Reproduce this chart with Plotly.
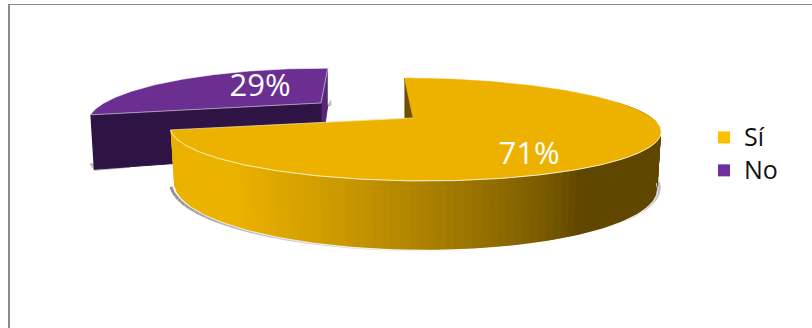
import numpy as np
import plotly.graph_objects as go

categories = ["Sí", "No"]
values = [71, 29]
legend_colors = ["#FDBF00", "#7030A0"]
top_colors = ["#EDB200", "#6B2E91"]
FONT = "Open Sans"

sweep = [v / sum(values) * 360 for v in values]
START = 1.0
W, H = 812, 328


def proj(theta_deg, p, bottom=False, grow=1.0):
    t = np.radians(theta_deg)
    X, Y = np.sin(t), np.cos(t)
    s = 1 / (1 + p["k"] * Y)
    wide = p["bw"] if bottom else 1.0
    x = p["cx"] + p["R"] * X * s * wide * grow + p["shear"] * Y
    y = p["cy"] - p["A"] * Y * s
    if bottom:
        y = y + p["H"] * s
    return x, y


YEL = dict(cx=413, cy=118, R=239, A=48.9, k=0.223, shear=-12, H=53.5, bw=0.985)
PUR = dict(cx=321, cy=103, R=217, A=47, k=0.35, shear=4, H=50, bw=0.985)

fig = go.Figure()


def poly(x, y, fill, line=None, lw=1):
    fig.add_trace(go.Scatter(
        x=list(x), y=list(y), mode="lines", fill="toself", fillcolor=fill,
        line=dict(color=line or fill, width=lw), hoverinfo="skip", showlegend=False))


def curve(x, y, color, lw=1):
    fig.add_trace(go.Scatter(x=list(x), y=list(y), mode="lines",
                             line=dict(color=color, width=lw),
                             hoverinfo="skip", showlegend=False))


a0_y, a1_y = START, START + sweep[0]
a0_p, a1_p = a1_y, a1_y + sweep[1]

# ---------- purple slice ----------
th = np.linspace(a0_p, a1_p, 120)
ax, ay = PUR["cx"], PUR["cy"]
bx, by = proj(a0_p, PUR, True)
tx, ty = proj(a0_p, PUR)
ex, ey = proj(a1_p, PUR)
fx, fy = proj(a1_p, PUR, True)
# ground shadow
poly([bx - 4, bx + 1, 130, 130], [by - 6, by + 1, by - 2, by - 4], "#B8B8B8")
poly([ex + 3, ex + 3, ex - 2], [ey + 32, fy, fy + 2], "#B8B8B8")
# far radial wall (sliver)
poly([ex, ax, ax, fx], [ey, ay, ay + PUR["H"], fy], "#55267A", "#55267A")
# near radial wall
poly([tx, ax, ax, bx], [ty, ay, ay + PUR["H"], by], "#2E1445", "#2E1445")
# top
px, py = proj(th, PUR)
poly(np.r_[ax, px, ax], np.r_[ay, py, ay], top_colors[1], "rgba(255,255,255,0.55)", 1)

# ---------- yellow slice ----------
# notch wall seen behind the opening
e0x, e0y = proj(a0_y, YEL)
poly([e0x, YEL["cx"], YEL["cx"], e0x], [e0y, YEL["cy"], YEL["cy"] + 40, e0y + 42], "#6B5000")

# ground shadow under the rim, fading towards the front of the pie
seg = np.linspace(a1_y, 172, 34)
for i, (a, b) in enumerate(zip(seg[:-1], seg[1:])):
    t = np.linspace(a, b, 5)
    sx, sy = proj(t, YEL, True, 1.003)
    f = i / (len(seg) - 2)
    g = int(140 + 105 * f)
    curve(sx - 2.5 * (1 - f), sy + 0.5, "rgb(%d,%d,%d)" % (g, g, g), 3 - f)
seg = np.linspace(85, 150, 24)
for i, (a, b) in enumerate(zip(seg[:-1], seg[1:])):
    t = np.linspace(a, b, 5)
    sx, sy = proj(t, YEL, True, 1.003)
    f = i / (len(seg) - 2)
    g = int(160 + 85 * f)
    curve(sx + 2 * (1 - f), sy, "rgb(%d,%d,%d)" % (g, g, g), 2.5 - f)

# front wall as graded strips, each overlapping the next so no seams show
LIGHT, DARK = np.array([0xEC, 0xB2, 0x00]), np.array([0x60, 0x47, 0x00])
edges = np.linspace(70, a1_y, 110)
step = edges[1] - edges[0]
for a, b in zip(edges[:-1], edges[1:]):
    tt = np.linspace(a, min(b + 2 * step, a1_y), 6)
    xa, ya = proj(tt, YEL)
    xb, yb = proj(tt[::-1], YEL, True)
    f = np.clip((580 - proj((a + b) / 2, YEL)[0]) / (580 - 235), 0, 1) ** 0.75
    c = DARK + (LIGHT - DARK) * f
    col = "rgb(%d,%d,%d)" % tuple(c)
    poly(np.r_[xa, xb], np.r_[ya, yb], col, col, 0)
# rim
th = np.linspace(100, a1_y, 160)
rx, ry = proj(th, YEL, True, 1.0)
curve(rx, ry + 0.5, "rgba(255,255,255,0.75)", 1)

# top
th = np.linspace(a0_y, a1_y, 300)
px, py = proj(th, YEL)
poly(np.r_[YEL["cx"], px, YEL["cx"]], np.r_[YEL["cy"], py, YEL["cy"]], top_colors[0], top_colors[0], 0.5)
th = np.linspace(95, a1_y, 200)
rx, ry = proj(th, YEL)
curve(rx, ry, "rgba(255,255,255,0.8)", 1)
curve([proj(a1_y, YEL)[0], YEL["cx"]], [proj(a1_y, YEL)[1], YEL["cy"]], "rgba(255,255,255,0.45)", 1)

# ---------- data labels ----------
label_x = [529, 260]
label_y = [156, 88]
fig.add_trace(go.Scatter(
    x=label_x, y=label_y, mode="text", text=[f"{v}%" for v in values],
    textfont=dict(family=FONT, size=31, color="white"),
    textposition="middle center", hoverinfo="skip", showlegend=False))

# ---------- legend ----------
for name, col in zip(categories, legend_colors):
    fig.add_trace(go.Scatter(x=[None], y=[None], mode="markers",
                             name=f'<span style="font-size:25px">{name}</span>',
                             marker=dict(symbol="square", size=15, color=col)))

fig.update_layout(
    width=W, height=H, margin=dict(l=0, r=0, t=0, b=0),
    paper_bgcolor="white", plot_bgcolor="white",
    xaxis=dict(range=[0, W], visible=False, fixedrange=True),
    yaxis=dict(range=[H, 0], visible=False, fixedrange=True),
    legend=dict(x=704 / W, y=1 - 116 / H, xanchor="left", yanchor="top",
                font=dict(family=FONT, size=23, color="#111111"),
                bgcolor="rgba(0,0,0,0)", itemsizing="constant"),
    shapes=[
        dict(type="line", x0=9, x1=9, y0=4, y1=H, line=dict(color="#8A8A8A", width=2), layer="below"),
        dict(type="line", x0=8, x1=W, y0=4.5, y1=4.5, line=dict(color="#8A8A8A", width=1), layer="below"),
    ],
)

fig.write_html("out.html", post_script="document.body.style.margin='0';",
               config={"displayModeBar": False})
